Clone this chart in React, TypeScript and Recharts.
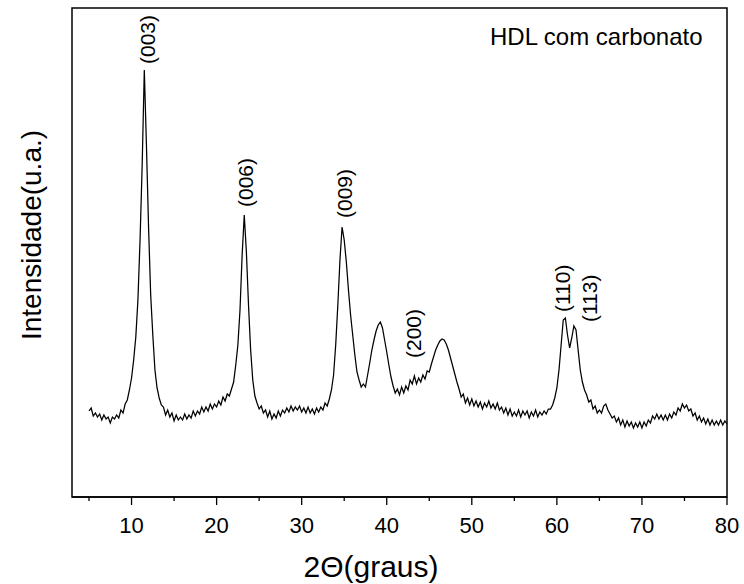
import React from 'react';
import { ComposedChart, Line, Scatter, XAxis, YAxis, ReferenceArea } from 'recharts';

const FONT = "'Liberation Sans', Arial, Helvetica, sans-serif";

// 2θ sampling of the pattern (degrees)
const startAngle = 5;
const angleStep = 0.25;

// Intensity (a.u.), 2θ = 5.00 … 20.00
const intensity5to20 = [
  86, 89, 81, 84, 80, 83, 77, 82, 78, 80,
  74, 80, 78, 82, 79, 87, 84, 93, 97, 107,
  119, 137, 160, 197, 257, 332, 427, 352, 270, 202,
  162, 127, 109, 99, 92, 90, 82, 87, 80, 84,
  76, 82, 77, 80, 77, 83, 78, 82, 79, 86,
  81, 86, 83, 90, 85, 90, 86, 93, 88, 93,
  90,
];
// 2θ = 20.25 … 40.00
const intensity20to40 = [
  96, 92, 100, 96, 103, 101, 108, 115, 132, 152,
  187, 242, 282, 245, 192, 147, 117, 101, 94, 88,
  91, 84, 87, 80, 86, 78, 83, 79, 86, 81,
  87, 84, 89, 85, 91, 86, 90, 87, 91, 85,
  89, 84, 90, 84, 88, 83, 89, 85, 90, 87,
  94, 91, 98, 107, 122, 152, 192, 237, 270, 257,
  235, 207, 182, 162, 142, 125, 117, 110, 113, 110,
  122, 134, 147, 157, 166, 172, 175, 169, 157, 145,
];
// 2θ = 40.25 … 60.00
const intensity40to60 = [
  132, 120, 111, 104, 108, 102, 110, 104, 111, 107,
  117, 113, 121, 113, 119, 115, 122, 118, 126, 125,
  133, 140, 147, 152, 156, 158, 157, 153, 147, 139,
  131, 123, 115, 108, 100, 103, 94, 99, 92, 98,
  91, 96, 90, 95, 88, 94, 90, 96, 89, 93,
  88, 94, 87, 90, 84, 89, 82, 88, 81, 85,
  81, 87, 80, 86, 82, 86, 79, 85, 81, 87,
  80, 85, 82, 86, 83, 88, 88, 92, 99, 109,
];
// 2θ = 60.25 … 80.00
const intensity60to80 = [
  127, 152, 177, 179, 162, 149, 159, 171, 167, 147,
  127, 115, 107, 102, 95, 97, 88, 91, 84, 87,
  84, 91, 93, 87, 83, 79, 81, 75, 79, 72,
  77, 70, 76, 71, 75, 69, 74, 70, 75, 69,
  75, 71, 77, 74, 81, 78, 83, 78, 82, 77,
  82, 77, 83, 79, 85, 82, 89, 86, 93, 89,
  92, 86, 88, 81, 84, 77, 81, 75, 79, 73,
  78, 72, 77, 72, 76, 72, 77, 72, 76, 73,
];

const intensity = [...intensity5to20, ...intensity20to40, ...intensity40to60, ...intensity60to80];
const pattern = intensity.map((h, i) => ({ t: startAngle + i * angleStep, h }));

// Miller-index annotations (anchor at the lower end of the rotated label)
const peakAngles = [11.85, 23.36, 35.09, 43.18, 60.65, 63.8];
const peakLabelHeights = [433, 290, 279, 139, 185, 175];
const peakNames = ['(003)', '(006)', '(009)', '(200)', '(110)', '(113)'];
const peakLabels = peakAngles.map((t, i) => ({ t, h: peakLabelHeights[i], label: peakNames[i] }));

const xDomain: [number, number] = [3, 80];
const yDomain: [number, number] = [0, 489];
const xTicks = [5, 10, 15, 20, 25, 30, 35, 40, 45, 50, 55, 60, 65, 70, 75, 80];
const yTicks = [48.9, 97.8, 146.7, 195.6, 244.5, 293.4, 342.3, 391.2, 440.1];

const XTick = (props: any) => {
  const { x, y, payload } = props;
  const major = payload.value % 10 === 0;
  return (
    <g>
      <line x1={x} x2={x} y1={y} y2={y + (major ? 8 : 4)} stroke="#000" strokeWidth={1.3} />
      {major && (
        <text x={x} y={y + 36} textAnchor="middle" fontSize={22} fontFamily={FONT} fill="#000">
          {payload.value}
        </text>
      )}
    </g>
  );
};

const YTick = (props: any) => {
  const { x, y } = props;
  return <line x1={x} x2={x + 3} y1={y} y2={y} stroke="#888" strokeWidth={1} />;
};

const PeakLabel = (props: any) => {
  const { cx, cy, payload } = props;
  if (cx == null || cy == null) return <g />;
  return (
    <text
      x={cx}
      y={cy}
      transform={`rotate(-90 ${cx} ${cy})`}
      textAnchor="start"
      dominantBaseline="central"
      fontSize={21}
      fontFamily={FONT}
      fill="#000"
    >
      {payload.label}
    </text>
  );
};

export default function App() {
  return (
    <div style={{ position: 'absolute', left: 0, top: 0, width: 744, height: 584, background: '#fff' }}>
      <ComposedChart width={744} height={584} margin={{ top: 8, right: 17, bottom: 47, left: 72 }}>
        <XAxis
          dataKey="t"
          type="number"
          domain={xDomain}
          ticks={xTicks}
          allowDataOverflow
          height={40}
          tickSize={0}
          tickMargin={0}
          tickLine={false}
          tick={<XTick />}
          axisLine={{ stroke: '#000', strokeWidth: 1.5 }}
          interval={0}
        />
        <YAxis
          type="number"
          domain={yDomain}
          ticks={yTicks}
          allowDataOverflow
          mirror
          width={0}
          tickSize={0}
          tickMargin={0}
          tickLine={false}
          tick={<YTick />}
          axisLine={{ stroke: '#000', strokeWidth: 1.5 }}
          interval={0}
        />
        <ReferenceArea
          x1={xDomain[0]}
          x2={xDomain[1]}
          y1={yDomain[0]}
          y2={yDomain[1]}
          fill="none"
          stroke="#000"
          strokeWidth={1.5}
          fillOpacity={0}
        />
        <Line
          data={pattern}
          dataKey="h"
          type="linear"
          stroke="#000"
          strokeWidth={1.25}
          dot={false}
          isAnimationActive={false}
        />
        <Scatter data={peakLabels} dataKey="h" shape={<PeakLabel />} isAnimationActive={false} />
      </ComposedChart>
      <svg
        width={744}
        height={584}
        style={{ position: 'absolute', left: 0, top: 0, pointerEvents: 'none' }}
      >
        <text x={490} y={45} fontSize={24} fontFamily={FONT} fill="#000">
          HDL com carbonato
        </text>
        <text x={371} y={577} textAnchor="middle" fontSize={30} fontFamily={FONT} fill="#000">
          2Θ(graus)
        </text>
        <text
          x={31}
          y={235}
          transform="rotate(-90 31 235)"
          textAnchor="middle"
          dominantBaseline="central"
          fontSize={28}
          fontFamily={FONT}
          fill="#000"
        >
          Intensidade(u.a.)
        </text>
      </svg>
    </div>
  );
}
